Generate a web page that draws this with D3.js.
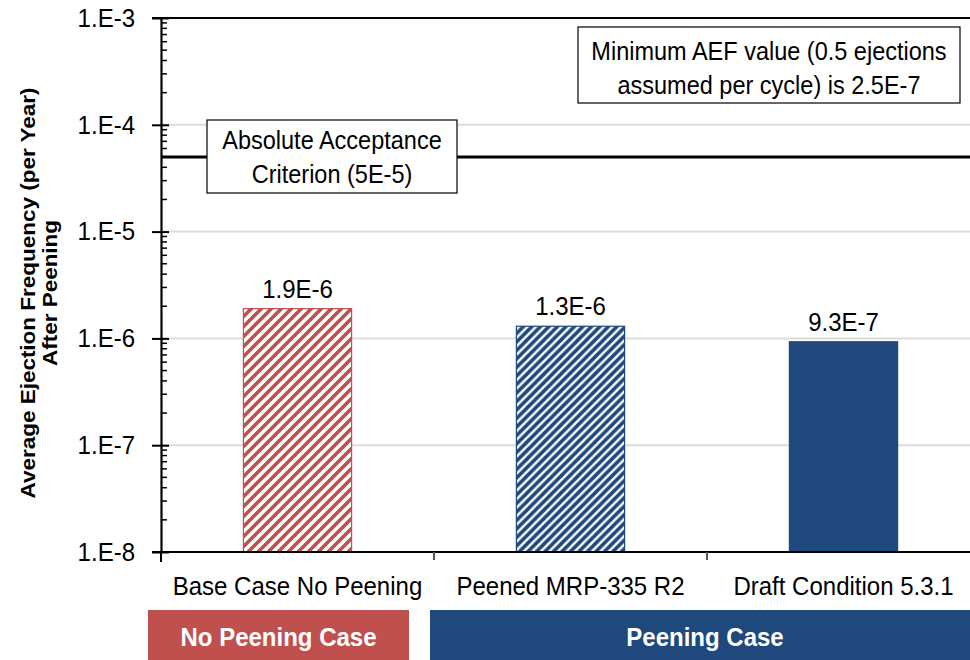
<!DOCTYPE html>
<html>
<head>
<meta charset="utf-8">
<script src="https://cdn.jsdelivr.net/npm/d3@7"></script>
<style>
  html, body { margin: 0; padding: 0; background: #fff; }
  svg { display: block; font-family: "Liberation Sans", Arial, sans-serif; }
</style>
</head>
<body>
<svg id="chart" width="970" height="660"></svg>
<script>
// Scenario categories and their average ejection frequencies (per year)
const categories = ["Base Case No Peening", "Peened MRP-335 R2", "Draft Condition 5.3.1"];
const aefValues = [1.9e-6, 1.3e-6, 9.3e-7];
const barStyles = ["redHatch", "blueHatch", "blueSolid"];

// Grouping bands under the category labels
const groupNames = ["No Peening Case", "Peening Case"];
const groupFirst = [0, 1];
const groupLast = [0, 2];

// Log axis decades and labels
const yDecades = [1e-8, 1e-7, 1e-6, 1e-5, 1e-4, 1e-3];
const yTickLabels = ["1.E-8", "1.E-7", "1.E-6", "1.E-5", "1.E-4", "1.E-3"];

// Acceptance criterion and annotation text
const criterionValue = 5e-5;
const criterionLines = ["Absolute Acceptance", "Criterion (5E-5)"];
const noteLines = ["Minimum AEF value (0.5 ejections", "assumed per cycle) is 2.5E-7"];
const yTitleLines = ["Average Ejection Frequency (per Year)", "After Peening"];

const RED = "#C0504D", BLUE = "#1F497D";
const TALL = 1.07; // vertical stretch of the lettering

const svg = d3.select("#chart");
const plotLeft = 161, plotRight = 980, plotTop = 18, plotBottom = 552;

const y = d3.scaleLog().domain([1e-8, 1e-3]).range([plotBottom, plotTop]);
const x = d3.scaleBand().domain(categories).range([plotLeft, plotRight]);
const xBar = d3.scaleBand().domain(categories).range([plotLeft, plotRight])
  .paddingInner(0.6).paddingOuter(0.3);

// Hatch patterns
const defs = svg.append("defs");
function hatch(id, color, period, width) {
  const p = defs.append("pattern").attr("id", id)
    .attr("patternUnits", "userSpaceOnUse")
    .attr("width", period).attr("height", period);
  p.append("rect").attr("width", period).attr("height", period).attr("fill", "#fff");
  p.append("path")
    .attr("d", `M${-period},${period} L${period},${-period} M0,${period} L${period},0 M0,${2*period} L${2*period},0`)
    .attr("stroke", color).attr("stroke-width", width);
}
hatch("redHatch", RED, 10, 3.6);
hatch("blueHatch", BLUE, 8.5, 3.6);
const fills = { redHatch: "url(#redHatch)", blueHatch: "url(#blueHatch)", blueSolid: BLUE };
const strokes = { redHatch: RED, blueHatch: BLUE, blueSolid: BLUE };

// Gridlines at each decade
svg.append("g").selectAll("line").data(yDecades.slice(1, -1)).join("line")
  .attr("x1", plotLeft).attr("x2", plotRight)
  .attr("y1", d => y(d)).attr("y2", d => y(d))
  .attr("stroke", "#dcdcdc").attr("stroke-width", 2);

// Bars
const data = categories.map((c, i) => ({ cat: c, v: aefValues[i], style: barStyles[i] }));
svg.append("g").selectAll("rect").data(data).join("rect")
  .attr("x", d => xBar(d.cat) + 0.5)
  .attr("width", xBar.bandwidth() - 1)
  .attr("y", d => y(d.v))
  .attr("height", d => plotBottom - y(d.v))
  .attr("fill", d => fills[d.style])
  .attr("stroke", d => strokes[d.style])
  .attr("stroke-width", 1.2);

// Value labels
function sci(v) {
  const e = Math.floor(Math.log10(v));
  return (v / Math.pow(10, e)).toFixed(1) + "E" + e;
}
svg.append("g").selectAll("text").data(data).join("text")
  .attr("class", "hz")
  .attr("x", d => xBar(d.cat) + xBar.bandwidth() / 2)
  .attr("y", d => y(d.v) - 11)
  .attr("text-anchor", "middle")
  .attr("font-size", 24)
  .attr("fill", "#000")
  .text(d => sci(d.v));

// Acceptance criterion line
svg.append("line")
  .attr("x1", plotLeft).attr("x2", plotRight)
  .attr("y1", y(criterionValue)).attr("y2", y(criterionValue))
  .attr("stroke", "#000").attr("stroke-width", 3);

// Y axis: major ticks crossing the axis, minor ticks inside
const yAxis = d3.axisLeft(y).tickValues(yDecades)
  .tickFormat((d, i) => yTickLabels[i])
  .tickSizeInner(9).tickSizeOuter(0).tickPadding(17);
const gy = svg.append("g").attr("transform", `translate(${plotLeft},0)`).call(yAxis);
gy.select(".domain").attr("stroke", "#000").attr("stroke-width", 2.2);
gy.selectAll(".tick line").attr("stroke", "#000").attr("stroke-width", 2)
  .attr("x2", -9).attr("x1", 8);
gy.selectAll(".tick text").attr("class", "hz").attr("font-size", 24).attr("fill", "#000")
  .attr("font-family", "Liberation Sans, Arial, sans-serif");

const minor = [];
for (let k = 0; k < yDecades.length - 1; k++)
  for (let m = 2; m <= 9; m++) minor.push(yDecades[k] * m);
svg.append("g").selectAll("line").data(minor).join("line")
  .attr("x1", plotLeft).attr("x2", plotLeft + 6)
  .attr("y1", d => y(d)).attr("y2", d => y(d))
  .attr("stroke", "#000").attr("stroke-width", 1.5);

// Top border
svg.append("line").attr("x1", plotLeft - 9).attr("x2", plotRight)
  .attr("y1", plotTop).attr("y2", plotTop).attr("stroke", "#000").attr("stroke-width", 2);

// X axis with boundary ticks between categories
svg.append("line").attr("x1", plotLeft - 9).attr("x2", plotRight)
  .attr("y1", plotBottom).attr("y2", plotBottom).attr("stroke", "#000").attr("stroke-width", 2);
const bounds = categories.map(c => x(c)).concat([plotRight]);
svg.append("g").selectAll("line").data(bounds).join("line")
  .attr("x1", d => d).attr("x2", d => d)
  .attr("y1", plotBottom).attr("y2", (d, i) => plotBottom + (i === 0 ? 10 : 8))
  .attr("stroke", (d, i) => i === 0 ? "#000" : "#555").attr("stroke-width", 2);

// Category labels
svg.append("g").selectAll("text").data(categories).join("text")
  .attr("class", "hz")
  .attr("x", d => x(d) + x.bandwidth() / 2)
  .attr("y", 595)
  .attr("text-anchor", "middle")
  .attr("font-size", 24)
  .text(d => d);

// Group bands
const bandColors = [RED, BLUE];
const bandInsetL = [-13, -4], bandInsetR = [-25, 0];
groupNames.forEach((g, i) => {
  const x0 = x(categories[groupFirst[i]]) + bandInsetL[i];
  const x1 = x(categories[groupLast[i]]) + x.bandwidth() + bandInsetR[i];
  svg.append("rect").attr("x", x0).attr("y", 610).attr("width", x1 - x0).attr("height", 52)
    .attr("fill", bandColors[i]);
  svg.append("text").attr("class", "hz").attr("x", (x0 + x1) / 2).attr("y", 646)
    .attr("text-anchor", "middle").attr("font-size", 24).attr("font-weight", "bold")
    .attr("fill", "#fff").text(g);
});

// Text boxes over the plot
function textBox(x0, y0, w, h, lines, baselines) {
  svg.append("rect").attr("x", x0).attr("y", y0).attr("width", w).attr("height", h)
    .attr("fill", "#fff").attr("stroke", "#000").attr("stroke-width", 1.2);
  lines.forEach((t, i) => {
    svg.append("text").attr("class", "hz").attr("x", x0 + w / 2).attr("y", baselines[i])
      .attr("text-anchor", "middle").attr("font-size", 23.5).text(t);
  });
}
textBox(207, 120, 250, 73, criterionLines, [149, 183]);
textBox(578, 27, 382, 76, noteLines, [60, 94]);

// Y axis title, two rotated lines
yTitleLines.forEach((t, i) => {
  svg.append("text").attr("class", "vt")
    .attr("transform", `translate(${35 + i * 21.5},293) rotate(-90)`)
    .attr("text-anchor", "middle").attr("font-size", 21).attr("font-weight", "bold")
    .text(t);
});

// Lettering is slightly taller than wide: horizontal text keeps its width with
// taller glyphs; the rotated title keeps its glyph height and runs longer.
svg.selectAll("text.hz").each(function () {
  const w = this.getComputedTextLength();
  const fs = parseFloat(this.getAttribute("font-size"));
  d3.select(this).attr("font-size", fs * TALL)
    .attr("textLength", w).attr("lengthAdjust", "spacingAndGlyphs");
});
svg.selectAll("text.vt").each(function () {
  const w = this.getComputedTextLength();
  d3.select(this).attr("textLength", w * TALL).attr("lengthAdjust", "spacingAndGlyphs");
});
</script>
</body>
</html>
